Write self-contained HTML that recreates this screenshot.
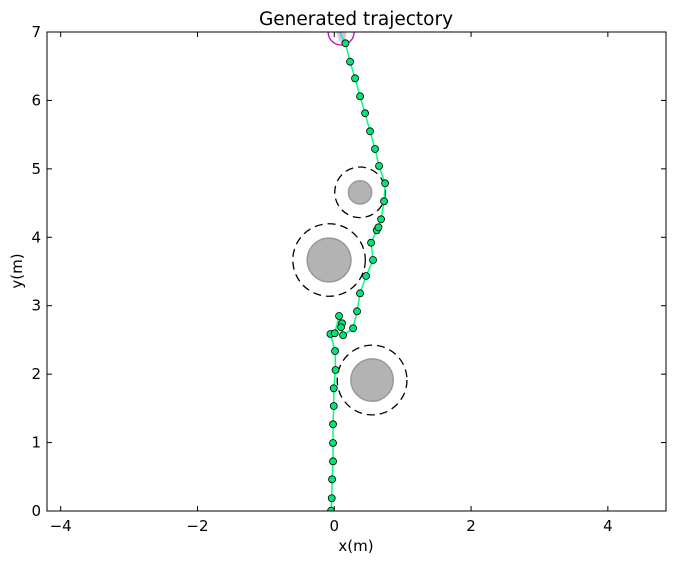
<!DOCTYPE html>
<html><head><meta charset="utf-8">
<style>
html,body{margin:0;padding:0;background:#fff;}
svg{display:block;font-family:"DejaVu Sans","Liberation Sans",sans-serif;}
</style></head>
<body>
<svg id="chart" width="676" height="564" viewBox="0 0 676 564" xmlns="http://www.w3.org/2000/svg">
<text x="356" y="25" font-size="18.5" text-anchor="middle">Generated trajectory</text>
<g id="plot"></g>
<text x="356" y="551" font-size="15" text-anchor="middle">x(m)</text>
<text transform="translate(22,271) rotate(-90)" font-size="15" text-anchor="middle">y(m)</text>
</svg>
<script>
const xTicks = [-4, -2, 0, 2, 4];
const yTicks = [0, 1, 2, 3, 4, 5, 6, 7];
const trajX = [-0.047,-0.037,-0.032,-0.018,-0.018,-0.018,-0.007,-0.007,0.018,0.012,-0.056,0.007,0.070,0.114,0.099,0.129,0.275,0.333,0.377,0.465,0.567,0.538,0.621,0.646,0.684,0.728,0.743,0.655,0.596,0.523,0.450,0.377,0.304,0.231,0.164];
const trajY = [0.004,0.186,0.463,0.726,0.994,1.267,1.534,1.793,2.060,2.338,2.587,2.597,2.850,2.743,2.685,2.568,2.670,2.918,3.181,3.434,3.668,3.921,4.102,4.146,4.263,4.526,4.789,5.042,5.290,5.549,5.812,6.060,6.323,6.566,6.835];
const obsX = [0.377, -0.076, 0.553];
const obsY = [4.657, 3.668, 1.914];
const obsR = [0.17, 0.32, 0.31];
const obsSafeR = [0.37, 0.53, 0.51];
const goalX = [0.10];
const goalY = [7.0];
const goalR = [0.19];

const L=47,R=666,T=32,B=511;
const xMin=-4.2,xMax=4.85,yMin=0,yMax=7;
const sx=v=>L+(v-xMin)/(xMax-xMin)*(R-L);
const sy=v=>B-(v-yMin)/(yMax-yMin)*(B-T);
const kx=(R-L)/(xMax-xMin);
const NS="http://www.w3.org/2000/svg";
const plot=document.getElementById('plot');
function mk(tag,attrs,parent){const e=document.createElementNS(NS,tag);for(const k in attrs)e.setAttribute(k,attrs[k]);(parent||plot).appendChild(e);return e;}

const clip=mk('clipPath',{id:'clip'});mk('rect',{x:L,y:T,width:R-L,height:B-T},clip);
const g=mk('g',{'clip-path':'url(#clip)'});

for(let i=0;i<obsX.length;i++){
  const c=mk('circle',{cx:sx(obsX[i]),cy:sy(obsY[i]),r:obsR[i]*kx,fill:'#b3b3b3',stroke:'#999',"stroke-width":1.5},g);
  
  
  const d=mk('circle',{cx:sx(obsX[i]),cy:sy(obsY[i]),r:obsSafeR[i]*kx,fill:'none',stroke:'#000',"stroke-width":1.3,"stroke-dasharray":'8,5'},g);
  
  
}
for(let i=0;i<goalX.length;i++){
  const gc=mk('circle',{cx:sx(goalX[i]),cy:sy(goalY[i]),r:goalR[i]*kx,fill:'none',stroke:'#c000c0',"stroke-width":1.3},g);
  
  
  const gp=mk('path',{d:`M${sx(goalX[i])-5},${sy(goalY[i])} L${sx(goalX[i])+5},${sy(goalY[i])} L${sx(goalX[i])+4},${sy(goalY[i])+11} L${sx(goalX[i])},${sy(goalY[i])+12} Z`,fill:'#e8b8e8',stroke:'none'},g);
  
  
}
let pts=trajX.map((x,i)=>sx(x)+','+sy(trajY[i]));
pts.push(sx(0.08)+','+sy(7.0));
const line=mk('polyline',{points:pts.join(' '),fill:'none',stroke:'#00ff80',"stroke-width":1.5},g);


for(let i=0;i<trajX.length;i++){
  const p=mk('circle',{cx:sx(trajX[i]),cy:sy(trajY[i]),r:3.5,fill:'#00e676',stroke:'#000',"stroke-width":0.8},g);
  
  
}
const frame=mk('rect',{x:L,y:T,width:R-L,height:B-T,fill:'none',stroke:'#000',"stroke-width":1});


xTicks.forEach(t=>{
  const x=sx(t);
  mk('line',{x1:x,y1:B,x2:x,y2:B-5,stroke:'#000'});
  mk('line',{x1:x,y1:T,x2:x,y2:T+5,stroke:'#000'});
  const tx=mk('text',{x:x,y:B+20,"font-size":15,"text-anchor":'middle'});
  tx.textContent=(t<0?'\u2212'+(-t):t);
  
  
});
yTicks.forEach(t=>{
  const y=sy(t);
  mk('line',{x1:L,y1:y,x2:L+5,y2:y,stroke:'#000'});
  mk('line',{x1:R,y1:y,x2:R-5,y2:y,stroke:'#000'});
  const ty=mk('text',{x:L-6,y:y+5,"font-size":15,"text-anchor":'end'});
  ty.textContent=t;
  
  
});
</script>
</body></html>
